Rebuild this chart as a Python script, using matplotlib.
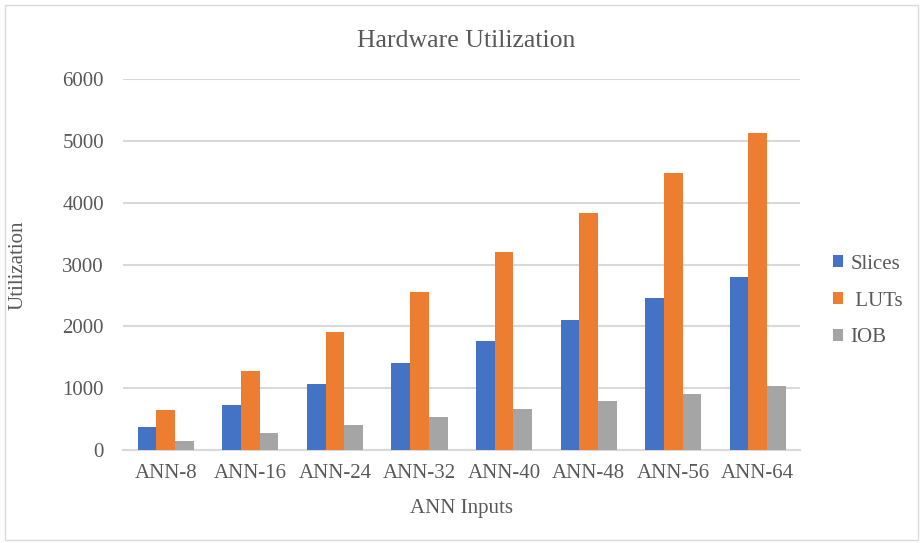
import matplotlib
matplotlib.use("Agg")
import matplotlib.pyplot as plt
from matplotlib.patches import Rectangle, Patch
import numpy as np

categories = ["ANN-8", "ANN-16", "ANN-24", "ANN-32", "ANN-40", "ANN-48", "ANN-56", "ANN-64"]
slices = [375, 720, 1070, 1415, 1760, 2110, 2455, 2805]
luts = [640, 1275, 1915, 2560, 3205, 3840, 4485, 5120]
iob = [140, 270, 400, 530, 660, 790, 910, 1035]
series_names = ["Slices", " LUTs", "IOB"]
colors = ["#4472C4", "#ED7D31", "#A5A5A5"]
yticks = [0, 1000, 2000, 3000, 4000, 5000, 6000]

text_color = "#595959"
plt.rcParams["font.family"] = ["Liberation Serif", "DejaVu Serif"]

fig = plt.figure(figsize=(9.23, 5.43), dpi=100)
fig.patch.set_facecolor("white")
fig.patches.append(Rectangle((5 / 923, 3 / 543), 913 / 923, 535 / 543,
                             transform=fig.transFigure, fill=False,
                             edgecolor="#d9d9d9", linewidth=1.0))

ax = fig.add_axes([123.5 / 923, 1 - 450 / 543, (800 - 123.5) / 923, (450 - 79) / 543])

x = np.arange(len(categories))
w = 0.221
for i, (vals, c) in enumerate(zip([slices, luts, iob], colors)):
    ax.bar(x + (i - 1) * w, vals, width=w, color=c, zorder=3)

ax.set_xlim(-0.5, len(categories) - 0.5)
ax.set_ylim(0, 6000)
ax.set_yticks(yticks)
ax.set_yticklabels([str(t) for t in yticks])
ax.set_xticks(x)
ax.set_xticklabels(categories)
ax.grid(axis="y", color="#d9d9d9", linewidth=1.5, zorder=0)
for s in ["top", "right", "left"]:
    ax.spines[s].set_visible(False)
ax.spines["bottom"].set_color("#d9d9d9")
ax.spines["bottom"].set_linewidth(1.5)
ax.tick_params(axis="both", length=0, labelsize=15, colors=text_color)
ax.tick_params(axis="y", pad=14)
ax.tick_params(axis="x", pad=10)

fig.text(466 / 923, 1 - 41 / 543, "Hardware Utilization", ha="center", va="center",
         fontsize=18.5, color=text_color)
fig.text(18 / 923, 1 - 265 / 543, "Utilization", ha="center", va="center",
         rotation=90, fontsize=15, color=text_color)
fig.text(462 / 923, 1 - 508 / 543, "ANN Inputs", ha="center", va="center",
         fontsize=15, color=text_color)

handles = [Patch(facecolor=c, edgecolor="none") for c in colors]
leg = fig.legend(handles, series_names, loc="center left",
                 bbox_to_anchor=(814 / 923, 1 - 301 / 543), frameon=False,
                 fontsize=15, handlelength=0.5, handleheight=0.5,
                 handletextpad=0.35, labelspacing=0.85)
for t in leg.get_texts():
    t.set_color(text_color)

fig.savefig("out.png", dpi=100, facecolor="white")
